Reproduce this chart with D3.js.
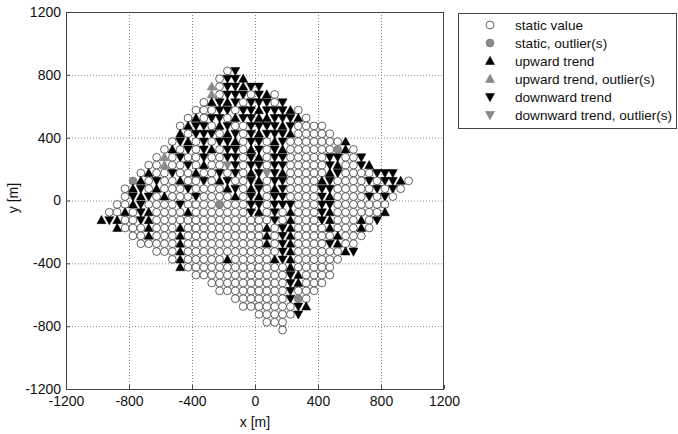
<!DOCTYPE html>
<html><head><meta charset="utf-8">
<script src="https://cdn.jsdelivr.net/npm/d3@7"></script>
<style>body{margin:0;background:#fff}svg{display:block;font-family:"Liberation Sans",Arial,sans-serif}</style>
</head><body><svg id="c" width="678" height="434"></svg>
<script>
// tick values
const xTicks = [-1200,-800,-400,0,400,800,1200];
const yTicks = [-1200,-800,-400,0,400,800,1200];
// grid spacing of survey points [m]
const step = 50;
// rows of survey points: y [m], x of first point [m], category codes
// o static, O static outlier, ^ up, A up outlier, v down, V down outlier
const rowY = [825,775,725,675,625,575,525,475,425,375,325,275,225,175,125,75,25,-25,-75,-125,-175,-225,-275,-325,-375,-425,-475,-525,-575,-625,-675,-725,-775,-825];
const rowX0 = [-175,-225,-275,-275,-325,-375,-425,-475,-475,-525,-575,-625,-675,-725,-775,-825,-825,-875,-925,-975,-875,-775,-725,-625,-525,-475,-375,-275,-225,-125,-75,25,75,175];
const rowCodes = [
"ov",
"ovv^",
"Aovv^vv",
"Aovvvov^o",
"o^v^vovvvov",
"ooovvovv^vvv^o",
"o^ovvo^vv^^vvv^o",
"o^vvo^voovvvv^voooo",
"^ovvvo^vov^vvv^ooooo",
"ov^ovovv^ovvo^vooooooo^",
"o^ovov^ovvo^vov^ooooooO^o",
"oAovoovoovvov^ovvooooovvoov",
"ooAoovo^ooVvovvovvooooov^oov^",
"o^oovoo^oovovo^vVv^ooooo^voooovvv",
"O^ovoo^oovo^voov^ovvoooo^voooovovv^o",
"o^vo^ooovoooo^vo^vo^voooovvooooovovo",
"ov^vo^ooovoooo^ov^ovvoooov^oooovovo",
"oo^voooovooooOooovvovvvooovvooooooo",
"oo^ov^oooo^ooooooov^ovo^ooov^oooooo^",
"^v^oov^ooooooooooooooovo^ooov^ooo^ov",
"^ooo^ooo^oooooooooo^ov^oooo^ooo^o",
"oo^ooo^oooooooooo^ov^ooooo^ooo",
"ooooo^oooooooooo^ov^oooov^oo",
"ooo^oooooooooooov^oooooo^v",
"o^ooooo^ooooo^v^oooooo",
"^ooooooooooooo^ooooo",
"oooooooooooov^oooo",
"oooooooooov^ooo",
"ooooooooovooo",
"ooooooovOo",
"ooooooov^",
"ooooov",
"ooo",
"o"
];
const legendLabels = ["static value","static, outlier(s)","upward trend","upward trend, outlier(s)","downward trend","downward trend, outlier(s)"];
const legendCodes = ["o","O","^","A","v","V"];

const svg = d3.select("#c");
const x = d3.scaleLinear().domain([-1200,1200]).range([66,444]);
const y = d3.scaleLinear().domain([-1200,1200]).range([389,12]);

const pts = [];
rowY.forEach((yy,r)=>{
  const codes = rowCodes[r];
  for(let i=0;i<codes.length;i++){
    const c = codes[i];
    if(c===".") continue;
    pts.push({x: rowX0[r] + i*step, y: yy, c});
  }
});

const styles = {
  "o": {shape:"circle", fill:"#fff", stroke:"#222"},
  "O": {shape:"circle", fill:"#8a8a8a", stroke:"#777"},
  "^": {shape:"up", fill:"#000", stroke:"#000"},
  "A": {shape:"up", fill:"#8a8a8a", stroke:"#777"},
  "v": {shape:"down", fill:"#000", stroke:"#000"},
  "V": {shape:"down", fill:"#8a8a8a", stroke:"#777"}
};
function markerPath(shape){
  if(shape==="up") return "M0,-4.7L4.5,3.5L-4.5,3.5Z";
  return "M0,4.7L4.5,-3.5L-4.5,-3.5Z";
}
function drawMarker(g, c){
  const s = styles[c];
  if(s.shape==="circle"){
    g.append("circle").attr("r",3.9).attr("fill",s.fill).attr("stroke",s.stroke).attr("stroke-width",0.7);
  } else {
    g.append("path").attr("d",markerPath(s.shape)).attr("fill",s.fill).attr("stroke",s.stroke).attr("stroke-width",0.5);
  }
}

// grid lines
const grid = svg.append("g");
xTicks.slice(1,-1).forEach(t=>{
  grid.append("line").attr("x1",x(t)+0.5).attr("x2",x(t)+0.5).attr("y1",12).attr("y2",389)
    .attr("stroke","#888").attr("stroke-width",1).attr("stroke-dasharray","1,2");
});
yTicks.slice(1,-1).forEach(t=>{
  grid.append("line").attr("y1",y(t)+0.5).attr("y2",y(t)+0.5).attr("x1",66).attr("x2",444)
    .attr("stroke","#888").attr("stroke-width",1).attr("stroke-dasharray","1,2");
});

const mg = svg.append("g");
pts.forEach(p=>{
  const g = mg.append("g").attr("transform",`translate(${x(p.x)},${y(p.y)})`);
  drawMarker(g,p.c);
});

// axes box
svg.append("rect").attr("x",66.5).attr("y",12.5).attr("width",377).attr("height",377)
  .attr("fill","none").attr("stroke","#444").attr("stroke-width",1);

const fmt = d => String(d);
const xAxis = d3.axisBottom(x).tickValues(xTicks).tickSize(-4).tickPadding(8).tickFormat(fmt);
const yAxis = d3.axisLeft(y).tickValues(yTicks).tickSize(-4).tickPadding(8).tickFormat(fmt);
const gx = svg.append("g").attr("transform","translate(0,389)").call(xAxis);
const gy = svg.append("g").attr("transform","translate(66,0)").call(yAxis);
[gx,gy].forEach(g=>{
  g.select(".domain").remove();
  g.selectAll(".tick line").attr("stroke","#444");
  g.selectAll(".tick text").attr("font-size",14).attr("fill","#111").attr("font-family","Liberation Sans, Arial, sans-serif");
});
gx.selectAll(".tick text").attr("dy","0.71em").attr("y",7.5);
gy.selectAll(".tick text").attr("x",-5);

svg.append("text").attr("x",255).attr("y",426.5).attr("text-anchor","middle").attr("font-size",14).attr("fill","#111").text("x [m]");
svg.append("text").attr("transform","translate(18,198) rotate(-90)").attr("text-anchor","middle").attr("font-size",14).attr("fill","#111").text("y [m]");

// legend
const lg = svg.append("g");
lg.append("rect").attr("x",458.5).attr("y",13.5).attr("width",218).attr("height",115).attr("fill","#fff").attr("stroke","#444");
legendLabels.forEach((lab,i)=>{
  const yy = 25 + i*18;
  const g = lg.append("g").attr("transform",`translate(490,${yy})`);
  drawMarker(g, legendCodes[i]);
  lg.append("text").attr("x",515).attr("y",yy).attr("dy","0.35em").attr("font-size",13.6).attr("fill","#111").text(lab);
});
</script></body></html>
